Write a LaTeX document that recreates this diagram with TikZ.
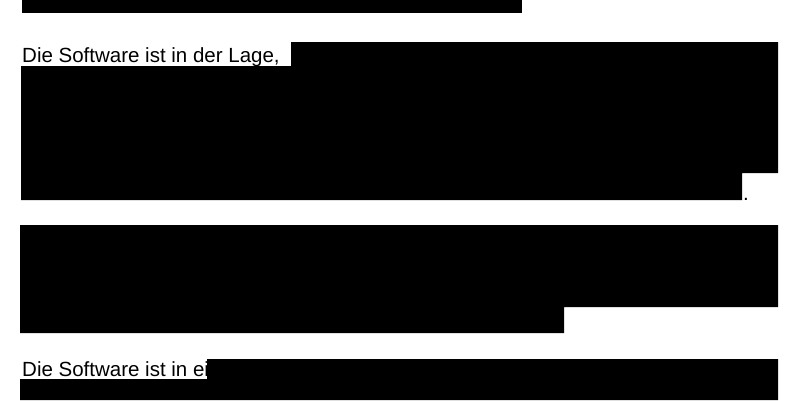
\documentclass[tikz,border=0pt]{standalone}
\usepackage{fontspec}
\setmainfont{Liberation Sans}
\begin{document}
\begin{tikzpicture}[x=1pt,y=-1pt,
  bar/.style={fill=black,draw=none},
  txt/.style={anchor=base west,inner sep=0pt,font=\fontsize{20.5}{24}\selectfont}]
\useasboundingbox[fill=white] (0,0) rectangle (800,400);
\fill[bar] (22,0) rectangle (522,13);
\node[txt] (t1) at (22,62) {Die Software ist in der Lage,};
\fill[bar] (291,42) -- (778,42) -- (778,173) -- (742,173) -- (742,200) -- (21,200) -- (21,66) -- (291,66) -- cycle;
\node[txt] (p1) at (743,200) {.};
\fill[bar] (20,225) -- (778,225) -- (778,307) -- (564,307) -- (564,333) -- (20,333) -- cycle;
\node[txt] (t2) at (22,376) {Die Software ist in ein};
\fill[bar] (207,359) -- (778,359) -- (778,400) -- (20,400) -- (20,379) -- (207,379) -- cycle;
\end{tikzpicture}
\end{document}
